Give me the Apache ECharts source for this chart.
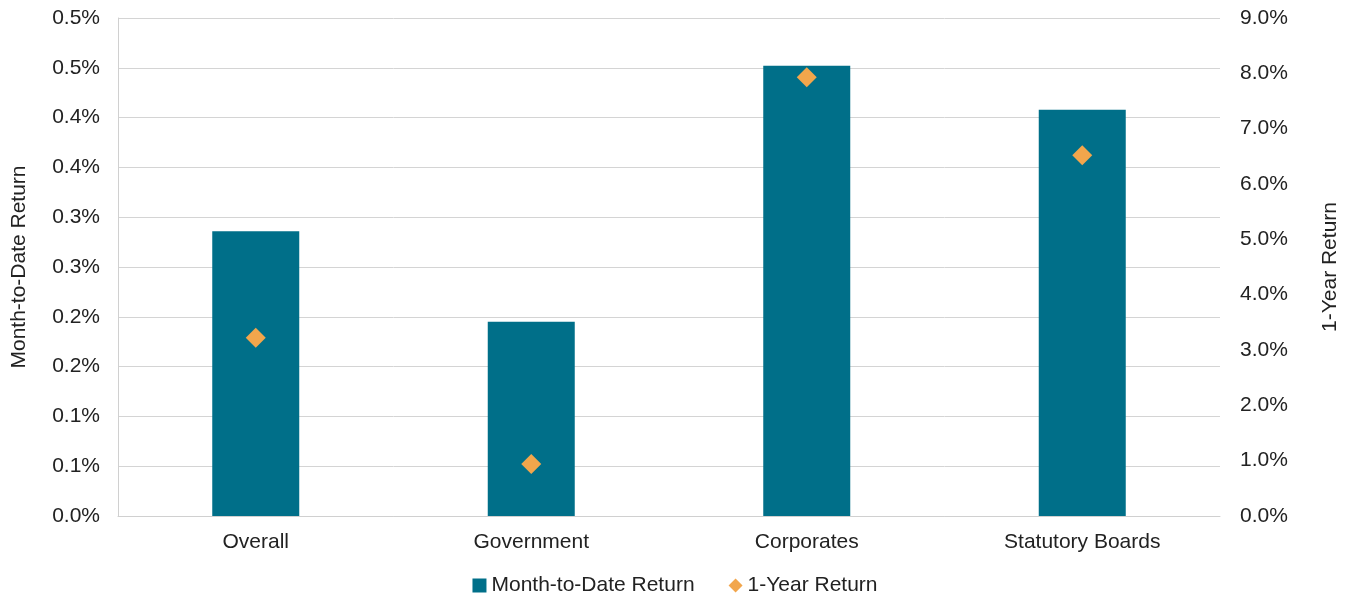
<!DOCTYPE html>
<html>
<head>
<meta charset="utf-8">
<script src="https://cdn.jsdelivr.net/npm/echarts@6/dist/echarts.min.js"></script>
<style>
  html, body { margin: 0; padding: 0; background: #fff; }
  #main { width: 1350px; height: 594px; }
</style>
</head>
<body>
<div id="main"></div>
<script>
// data
const categories = ['Overall', 'Government', 'Corporates', 'Statutory Boards']
const mtdReturn = [0.286, 0.195, 0.452, 0.408]   // % (left axis)
const yearReturn = [3.22, 0.94, 7.93, 6.52]      // % (right axis)
const leftTickLabels = ['0.0%', '0.1%', '0.1%', '0.2%', '0.2%', '0.3%', '0.3%', '0.4%', '0.4%', '0.5%', '0.5%']

const teal = '#006f89'
const orange = '#f2a64c'
const font = 'Liberation Sans, Arial, sans-serif'
const fs = 21

const chart = echarts.init(document.getElementById('main'))

const option = {
  animation: false,
  textStyle: { fontFamily: font },
  grid: { left: 118, right: 130, top: 18, bottom: 78, outerBoundsMode: 'none', containLabel: false },
  legend: {
    top: 570,
    left: 'center',
    itemGap: 34,
    itemWidth: 14,
    itemHeight: 14,
    textStyle: { fontSize: fs, color: '#222', fontFamily: font },
    data: [
      { name: 'Month-to-Date Return', icon: 'rect' },
      { name: '1-Year Return', icon: 'diamond' }
    ]
  },
  xAxis: {
    type: 'category',
    data: categories,
    axisLine: { lineStyle: { color: '#d0d0d0' } },
    axisTick: { show: false },
    axisLabel: { fontSize: fs, color: '#222', margin: 16, fontFamily: font }
  },
  yAxis: [
    {
      type: 'value',
      min: 0, max: 0.5, interval: 0.05,
      name: 'Month-to-Date Return',
      nameLocation: 'middle',
      nameRotate: 90,
      nameGap: 88,
      nameTextStyle: { fontSize: fs, color: '#222', fontFamily: font },
      axisLine: { show: true, lineStyle: { color: '#d0d0d0' } },
      axisTick: { show: false },
      splitLine: { lineStyle: { color: '#d4d4d4' } },
      axisLabel: {
        fontSize: fs, color: '#222', margin: 18, fontFamily: font,
        formatter: v => leftTickLabels[Math.round(v / 0.05)]
      }
    },
    {
      type: 'value',
      min: 0, max: 9, interval: 1,
      name: '1-Year Return',
      nameLocation: 'middle',
      nameRotate: 90,
      nameGap: 100,
      nameTextStyle: { fontSize: fs, color: '#222', fontFamily: font },
      axisLine: { show: false },
      axisTick: { show: false },
      splitLine: { show: false },
      axisLabel: {
        fontSize: fs, color: '#222', margin: 20, fontFamily: font,
        formatter: v => v.toFixed(1) + '%'
      }
    }
  ],
  series: [
    {
      name: 'Month-to-Date Return',
      type: 'bar',
      yAxisIndex: 0,
      barWidth: 87,
      itemStyle: { color: teal },
      data: mtdReturn
    },
    {
      name: '1-Year Return',
      type: 'scatter',
      yAxisIndex: 1,
      symbol: 'diamond',
      symbolSize: 20,
      itemStyle: { color: orange, opacity: 1 },
      data: yearReturn
    }
  ]
}

chart.setOption(option)
</script>
</body>
</html>
